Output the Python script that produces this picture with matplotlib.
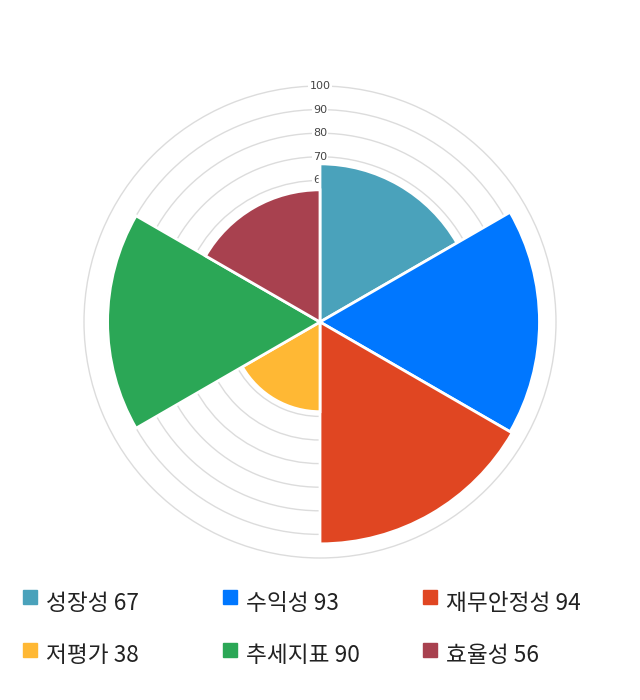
import numpy as np
import matplotlib
matplotlib.use("Agg")
import matplotlib.pyplot as plt
from matplotlib.patches import Rectangle

plt.rcParams['font.family'] = ['Noto Sans CJK KR', 'DejaVu Sans']

categories = ['성장성', '수익성', '재무안정성', '저평가', '추세지표', '효율성']
values = [67, 93, 94, 38, 90, 56]
colors = ['#4AA2BB', '#0077FF', '#E04622', '#FFB834', '#2BA756', '#A8414F']
ring_ticks = [10, 20, 30, 40, 50, 60, 70, 80, 90, 100]

W, H = 640, 700
fig = plt.figure(figsize=(W / 100, H / 100), dpi=100)

cx, cy, R = 320, 322, 236
rmax = 101
Rax = R * rmax / 100
ax = fig.add_axes([(cx - Rax) / W, (H - cy - Rax) / H, 2 * Rax / W, 2 * Rax / H],
                  projection='polar')
ax.set_theta_zero_location('N')
ax.set_theta_direction(-1)
ax.set_ylim(0, rmax)
ax.set_axisbelow(True)

n = len(values)
width = 2 * np.pi / n
theta = np.arange(n) * width
ax.bar(theta, values, width=width, align='edge', color=colors,
       edgecolor='white', linewidth=2, zorder=3)

ax.set_rgrids(ring_ticks, labels=[''] * len(ring_ticks))
ax.set_xticks([])
ax.yaxis.grid(True, color='#dcdcdc', linewidth=1)
ax.xaxis.grid(False)
ax.spines['polar'].set_visible(False)
ax.patch.set_alpha(0)

for t in ring_ticks:
    ax.text(0, t, str(t), ha='center', va='center', fontsize=8, color='#444444',
            family=['DejaVu Sans'], zorder=2,
            bbox=dict(boxstyle='square,pad=0.12', fc='white', ec='none'))

# legend
lax = fig.add_axes([0, 0, 1, 1])
lax.set_xlim(0, W)
lax.set_ylim(H, 0)
lax.axis('off')
col_x = [23, 223, 423]
row_y = [597, 650]
for i, (c, v, col) in enumerate(zip(categories, values, colors)):
    x = col_x[i % 3]
    y = row_y[i // 3]
    lax.add_patch(Rectangle((x, y - 7), 14, 14, color=col))
    lax.text(x + 23, y + 6, f'{c} {v}', ha='left', va='center', fontsize=16.3,
             color='#222222')

fig.savefig('out.png', dpi=100)
